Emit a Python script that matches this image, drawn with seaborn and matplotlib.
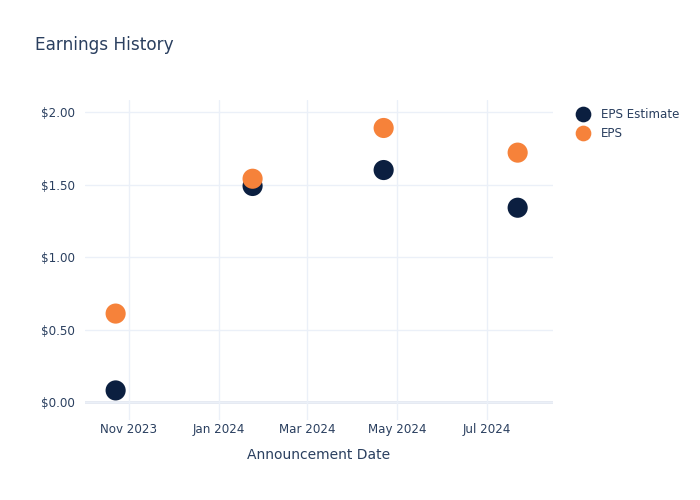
#!/usr/bin/env python3

import pandas as pd
import matplotlib
matplotlib.use("Agg")
from matplotlib import pyplot as plt, dates as mdates, ticker
import seaborn as sns

dates = ["2023-10-23", "2024-01-24", "2024-04-22", "2024-07-22"]
eps_estimate = [0.08, 1.49, 1.60, 1.34]
eps_actual = [0.61, 1.54, 1.89, 1.72]

TEXT = "#2a3f5f"
GRID = "#ebf0f8"
palette = {"EPS Estimate": "#0b1f40", "EPS": "#f6823a"}

df = pd.DataFrame({
    "Announcement Date": pd.to_datetime(dates * 2),
    "value": eps_estimate + eps_actual,
    "series": ["EPS Estimate"] * len(dates) + ["EPS"] * len(dates),
})

sns.set_theme(style="white")
plt.rcParams["font.family"] = ["DejaVu Sans"]

fig = plt.figure(figsize=(7, 5), dpi=100)
ax = fig.add_axes([0.121, 0.16, 0.669, 0.64])

ax.axhline(0, color="#e2e7f0", lw=2, zorder=0)
sns.scatterplot(data=df, x="Announcement Date", y="value", hue="series",
                palette=palette, s=210, edgecolor="none", ax=ax, zorder=3)

ax.set_xlim(pd.Timestamp("2023-10-02"), pd.Timestamp("2024-08-15"))
ax.set_ylim(-0.124, 2.083)
ax.xaxis.set_major_locator(mdates.MonthLocator(interval=2))
ax.xaxis.set_major_formatter(mdates.DateFormatter("%b %Y"))
ax.yaxis.set_major_locator(ticker.MultipleLocator(0.5))
ax.yaxis.set_major_formatter(ticker.FuncFormatter(lambda v, p: "$%.2f" % v))
ax.grid(True, color=GRID, lw=1)
ax.set_axisbelow(True)
for s in ax.spines.values():
    s.set_visible(False)
ax.tick_params(axis="both", length=0, labelsize=8.6, labelcolor=TEXT)
ax.tick_params(axis="x", pad=2)
ax.tick_params(axis="y", pad=7)
ax.set_ylabel("")
ax.set_xlabel("Announcement Date", fontsize=10, color=TEXT, labelpad=9)

handles, labels = ax.get_legend_handles_labels()
ax.legend_.remove()
fig.legend(handles, labels, loc="upper left", bbox_to_anchor=(0.80, 0.806),
           frameon=False, fontsize=8.6, labelcolor=TEXT, markerscale=0.78,
           handletextpad=0.55, labelspacing=0.5)

fig.text(0.05, 0.91, "Earnings History", fontsize=12.2, color=TEXT, va="center")

fig.savefig("out.png", dpi=100)
